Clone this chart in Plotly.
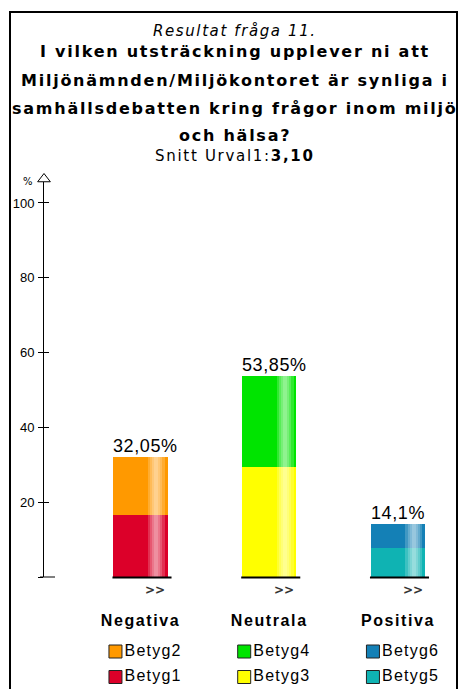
import plotly.graph_objects as go

# ---- data -------------------------------------------------------------
categories = ["Negativa", "Neutrala", "Positiva"]
lower_names = ["Betyg1", "Betyg3", "Betyg5"]
upper_names = ["Betyg2", "Betyg4", "Betyg6"]
lower_values = [16.67, 29.49, 7.69]
upper_values = [15.38, 24.36, 6.41]
lower_colors = ["#DC0029", "#FFFF00", "#0FB3B3"]
upper_colors = ["#FF9900", "#00E400", "#1480B6"]
y_tickvals = [0, 20, 40, 60, 80, 100]
y_ticktext = ["", "20", "40", "60", "80", "100"]
heading = "Resultat fråga 11."
question_lines = [
    "I vilken utsträckning upplever ni att",
    "Miljönämnden/Miljökontoret är synliga i",
    "samhällsdebatten kring frågor inom miljö",
    "och hälsa?",
]
mean_label = "Snitt Urval1:"
mean_value = "3,10"

# ---- geometry helpers -------------------------------------------------
W, H = 458, 689
X_MIN, X_MAX = -0.7495, 2.404          # x range (category slots at 0, 1, 2)
Y_MAX = 105.6                          # top of y axis (arrow sits above)
X_DOM = [44 / W, 450 / W]
Y_DOM = [(H - 577) / H, (H - 182) / H]
PX_PER_Y = (577 - 182) / Y_MAX
PX_PER_X = (450 - 44) / (X_MAX - X_MIN)
BW = 0.42                              # bar width in category units


def py(p):
    """paper y from a pixel row"""
    return 1 - p / H


def px(p):
    """paper x from a pixel column"""
    return p / W


def to_px(xv):
    """pixel column of an x data value"""
    return 44 + (xv - X_MIN) * PX_PER_X


def spaced(text, sp):
    return f'<span style="letter-spacing:{sp}px">{text}</span>'


xs = list(range(len(categories)))
totals = [a + b for a, b in zip(lower_values, upper_values)]

fig = go.Figure()

# stacked segments
fig.add_trace(go.Bar(x=xs, y=lower_values, base=[0] * len(xs), width=BW,
                     marker=dict(color=lower_colors, line=dict(width=0)),
                     name="lower", showlegend=False, hoverinfo="skip"))
fig.add_trace(go.Bar(x=xs, y=upper_values, base=lower_values, width=BW,
                     marker=dict(color=upper_colors, line=dict(width=0)),
                     name="upper", showlegend=False, hoverinfo="skip"))

# glossy highlight: nested translucent white strips
hl_center = -BW / 2 + 43 / PX_PER_X
for wpx in [17, 12, 8, 4]:
    w = wpx / PX_PER_X
    fig.add_trace(go.Bar(x=xs, y=totals, base=[0] * len(xs), width=w,
                         offset=hl_center - w / 2,
                         marker=dict(color="rgba(255,255,255,0.19)", line=dict(width=0)),
                         showlegend=False, hoverinfo="skip"))

# inner half of the crossing y ticks lives on an overlaid axis
fig.add_trace(go.Scatter(x=[X_MIN], y=[0], yaxis="y2", mode="markers",
                         marker=dict(opacity=0), showlegend=False, hoverinfo="skip"))

# ---- decorations on a full-page pixel grid (x2 / y3) -------------------
# y-axis arrow head
fig.add_trace(go.Scatter(x=[44], y=[179], xaxis="x2", yaxis="y3", mode="markers",
                         marker=dict(symbol="triangle-up", size=11, color="white",
                                     line=dict(color="black", width=1)),
                         showlegend=False, hoverinfo="skip"))

# legend swatches under each category
sw_x = [to_px(i - BW / 2) + 2 for i in xs]
legend_font = dict(family="Liberation Sans, Arial, sans-serif", size=16, color="black")
for names, colors, row in [(upper_names, upper_colors, 651.5), (lower_names, lower_colors, 677)]:
    fig.add_trace(go.Scatter(
        x=sw_x, y=[row] * len(xs), xaxis="x2", yaxis="y3", mode="markers+text",
        marker=dict(symbol="square", size=13, color=colors,
                    line=dict(color="#222222", width=1)),
        text=[spaced(n, 1.2) for n in names], textposition="middle right",
        textfont=legend_font, showlegend=False, hoverinfo="skip"))

annotations = []

# headings
annotations.append(dict(text=spaced(f"<i>{heading}</i>", 1.6), x=px(235), y=py(31),
                        font=dict(family="DejaVu Sans", size=15, color="black")))
for txt, yc in zip(question_lines, [52, 80, 108, 136]):
    annotations.append(dict(text=spaced(f"<b>{txt}</b>", 1.75), x=px(235), y=py(yc),
                            font=dict(family="DejaVu Sans", size=16, color="black")))
annotations.append(dict(text=spaced(f"{mean_label}<b>{mean_value}</b>", 1.7),
                        x=px(235), y=py(156),
                        font=dict(family="DejaVu Sans", size=15, color="black")))
for a in annotations:
    a.update(xref="paper", yref="paper", xanchor="center", yanchor="middle", showarrow=False)

# value labels above bars
for i, t in zip(xs, totals):
    lbl = f"{t:.2f}".rstrip("0").rstrip(".").replace(".", ",") + "%"
    annotations.append(dict(text=spaced(lbl, 0.6), x=i - BW / 2, y=t, xref="x", yref="y",
                            xanchor="left", yanchor="bottom", showarrow=False,
                            xshift=-2, yshift=-1,
                            font=dict(family="Liberation Sans, Arial", size=18, color="black")))

# ">>" links
for i in xs:
    annotations.append(dict(text="<b>&gt;&gt;</b>", x=i + 0.115, y=py(590), xref="x", yref="paper",
                            xanchor="center", yanchor="middle", showarrow=False,
                            font=dict(family="DejaVu Sans", size=12, color="#333333")))

# percent sign over the y axis
annotations.append(dict(text="%", x=px(28), y=py(182), xref="paper", yref="paper",
                        xanchor="center", yanchor="middle", showarrow=False,
                        font=dict(family="DejaVu Sans", size=10, color="black")))

shapes = [
    # outer frame
    dict(type="rect", xref="paper", yref="paper", x0=px(10), x1=px(457),
         y0=-0.05, y1=py(12), line=dict(color="black", width=2), fillcolor="rgba(0,0,0,0)"),
]
# baseline segments under the bars
for i in xs:
    shapes.append(dict(type="line", xref="x", yref="paper",
                       x0=i - BW / 2 - 1 / PX_PER_X, x1=i + BW / 2 + 4 / PX_PER_X,
                       y0=py(577.5), y1=py(577.5), line=dict(color="black", width=2)))
# wider foot of the y axis
shapes.append(dict(type="line", xref="paper", yref="paper", x0=px(40), x1=px(55),
                   y0=py(577), y1=py(577), line=dict(color="black", width=1)))

fig.update_layout(
    width=W, height=H, margin=dict(l=0, r=0, t=0, b=0),
    paper_bgcolor="white", plot_bgcolor="rgba(0,0,0,0)",
    barmode="overlay", bargap=0, showlegend=False,
    annotations=annotations, shapes=shapes,
    xaxis=dict(domain=X_DOM, range=[X_MIN, X_MAX], showgrid=False, zeroline=False,
               showline=False, ticks="", tickvals=xs,
               ticktext=[f"<b>{spaced(c, 1.6)}</b>" for c in categories],
               tickfont=dict(family="Liberation Sans, Arial", size=16, color="black"),
               ticklabelstandoff=32, fixedrange=True),
    yaxis=dict(domain=Y_DOM, range=[0, Y_MAX], showgrid=False, zeroline=False,
               showline=True, linecolor="black", linewidth=1,
               ticks="outside", ticklen=5, tickcolor="black", tickwidth=1,
               tickvals=y_tickvals, ticktext=y_ticktext,
               tickfont=dict(family="Liberation Sans, Arial", size=13, color="black"),
               ticklabelstandoff=1, fixedrange=True),
    yaxis2=dict(domain=Y_DOM, range=[0, Y_MAX], overlaying="y", anchor="x", side="left",
                showgrid=False, zeroline=False, showline=False,
                ticks="inside", ticklen=5, tickcolor="black", tickwidth=1,
                tickvals=y_tickvals, showticklabels=False, fixedrange=True),
    xaxis2=dict(domain=[0, 1], range=[0, W], anchor="y3", visible=False, fixedrange=True),
    yaxis3=dict(domain=[0, 1], range=[H, 0], anchor="x2", visible=False, fixedrange=True),
)

fig.write_html("out.html")
